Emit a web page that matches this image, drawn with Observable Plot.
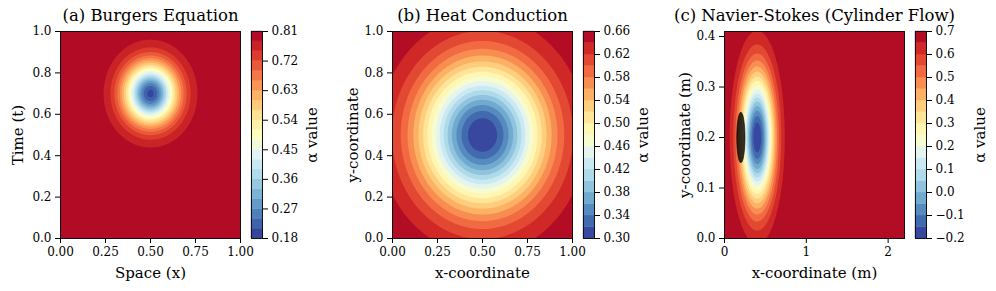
<!DOCTYPE html>
<html>
<head>
<meta charset="utf-8">
<script src="https://cdn.jsdelivr.net/npm/d3@7"></script>
<script src="https://cdn.jsdelivr.net/npm/@observablehq/plot@0.6"></script>
<style>
  html, body { margin: 0; padding: 0; background: #fff; }
  #fig { position: relative; width: 996px; height: 291px; overflow: hidden; background: #fff; font-family: "DejaVu Serif", serif; }
  #fig svg { position: absolute; top: 0; }
</style>
</head>
<body>
<div id="fig"></div>
<script>
// ---------------- data ----------------
const titles = ["(a) Burgers Equation", "(b) Heat Conduction", "(c) Navier-Stokes (Cylinder Flow)"];
const xLabels = ["Space (x)", "x-coordinate", "x-coordinate (m)"];
const yLabels = ["Time (t)", "y-coordinate", "y-coordinate (m)"];
const cbLabel = "α value";

const xDomains = [[0, 1], [0, 1], [0, 2.2]];
const yDomains = [[0, 1], [0, 1], [0, 0.41]];
const xTicks = [[0, 0.25, 0.5, 0.75, 1], [0, 0.25, 0.5, 0.75, 1], [0, 1, 2]];
const yTicks = [[0, 0.2, 0.4, 0.6, 0.8, 1], [0, 0.2, 0.4, 0.6, 0.8, 1], [0, 0.1, 0.2, 0.3, 0.4]];
const xTickFormats = [".2f", ".2f", "d"];
const yTickFormats = [".1f", ".1f", ".1f"];

// α field of each panel: a smooth dip below a background level
const fieldBase  = [0.80, 0.66, 0.70];
const fieldDepth = [0.60, 0.36, 0.90];
const fieldCx    = [0.50, 0.50, 0.40];
const fieldCy    = [0.70, 0.50, 0.20];
const fieldSx    = [0.10, 0.24, 0.14];
const fieldSy    = [0.10, 0.24, 0.088];

// contour levels (colour bar)
const levelLo    = [0.18, 0.30, -0.20];
const levelStep  = [0.03, 0.02, 0.05];
const levelCount = [21, 18, 18];
const cbTicks = [
  [0.18, 0.27, 0.36, 0.45, 0.54, 0.63, 0.72, 0.81],
  [0.30, 0.34, 0.38, 0.42, 0.46, 0.50, 0.54, 0.58, 0.62, 0.66],
  [-0.2, -0.1, 0.0, 0.1, 0.2, 0.3, 0.4, 0.5, 0.6, 0.7]
];
const cbTickFormats = [".2f", ".2f", ".1f"];

// cylinder obstacle (panel c)
const cylinderX = [0.2];
const cylinderY = [0.2];
const cylinderR = [0.05];

// ---------------- styling / layout ----------------
const cmapColors = ["#313695","#4575b4","#74add1","#abd9e9","#e0f3f8","#ffffbf","#fee090","#fdae61","#f46d43","#d73027","#a50026"];
const cmap = d3.piecewise(d3.interpolateRgb, cmapColors);
const frameLeft = [60, 392, 724];
const frameW = 180;
const frameTop = 31, frameBottom = 238, H = 291;
const mL = 70, mR = 8;
const cbGap = 11, cbW = 11, cbMR = 75;
const yLabelDx = [-42, -39, -39];
const cbLabelDx = [50, 49, 54];
const tickFont = 12, labelFont = 15, titleFont = 16.5;
const tickSize = 5, tickPad = 4;

const fig = document.getElementById("fig");

function levelsOf(i) {
  return d3.range(levelCount[i]).map(k => +(levelLo[i] + k * levelStep[i]).toFixed(6));
}
function colorOf(i) {
  const lo = levelLo[i], st = levelStep[i], hi = lo + levelCount[i] * st;
  return {type: "linear", domain: [lo - st / 2, hi - st / 2], interpolate: cmap};
}
const baseStyle = {fontFamily: "DejaVu Serif", fontSize: tickFont + "px", overflow: "visible", background: "transparent", color: "#000"};

for (let i = 0; i < 3; i++) {
  const field = (x, y) => fieldBase[i] - fieldDepth[i] * Math.exp(-(
    (x - fieldCx[i]) ** 2 / (2 * fieldSx[i] ** 2) + (y - fieldCy[i]) ** 2 / (2 * fieldSy[i] ** 2)));
  const bounds = {x1: xDomains[i][0], x2: xDomains[i][1], y1: yDomains[i][0], y2: yDomains[i][1]};
  const marks = [
    Plot.contour({fill: field, ...bounds, thresholds: levelsOf(i), pixelSize: 1})
  ];
  if (i === 2) {
    cylinderX.forEach((cx, k) => {
      marks.push(Plot.contour({
        value: (x, y) => cylinderR[k] - Math.hypot(x - cx, y - cylinderY[k]),
        ...bounds, thresholds: [0], pixelSize: 1,
        fill: "#000", fillOpacity: 0.8, stroke: "#000", strokeWidth: 0.6
      }));
    });
  }
  marks.push(
    Plot.frame({stroke: "#111", strokeWidth: 1}),
    Plot.axisX(xTicks[i], {tickFormat: d3.format(xTickFormats[i]), tickSize, tickPadding: tickPad, fontSize: tickFont, label: null}),
    Plot.axisY(yTicks[i], {tickFormat: d3.format(yTickFormats[i]), tickSize, tickPadding: tickPad, fontSize: tickFont, label: null}),
    Plot.text([titles[i]], {frameAnchor: "top", dy: -15.5, lineAnchor: "middle", textAnchor: "middle", fontSize: titleFont}),
    Plot.text([xLabels[i]], {frameAnchor: "bottom", dy: 35, lineAnchor: "middle", textAnchor: "middle", fontSize: labelFont}),
    Plot.text([yLabels[i]], {frameAnchor: "left", dx: yLabelDx[i], rotate: -90, lineAnchor: "middle", textAnchor: "middle", fontSize: labelFont})
  );
  const main = Plot.plot({
    width: frameW + mL + mR, height: H,
    marginLeft: mL, marginRight: mR, marginTop: frameTop, marginBottom: H - frameBottom,
    x: {domain: xDomains[i]}, y: {domain: yDomains[i]},
    color: colorOf(i),
    style: baseStyle,
    marks
  });
  main.style.left = (frameLeft[i] - mL) + "px";
  fig.appendChild(main);

  // colour bar
  const st = levelStep[i];
  const cb = Plot.plot({
    width: 1 + cbW + cbMR, height: H,
    marginLeft: 1, marginRight: cbMR, marginTop: frameTop, marginBottom: H - frameBottom,
    x: {domain: [0, 1], axis: null},
    y: {domain: [levelLo[i], levelLo[i] + levelCount[i] * st]},
    color: colorOf(i),
    style: baseStyle,
    marks: [
      Plot.rect(levelsOf(i), {x1: 0, x2: 1, y1: d => d, y2: d => d + st, fill: d => d, stroke: d => d, strokeWidth: 0.4}),
      Plot.frame({stroke: "#111", strokeWidth: 1}),
      Plot.axisY(cbTicks[i], {anchor: "right", tickFormat: d3.format(cbTickFormats[i]), tickSize, tickPadding: tickPad, fontSize: tickFont, label: null}),
      Plot.text([cbLabel], {frameAnchor: "right", dx: cbLabelDx[i], rotate: -90, lineAnchor: "middle", textAnchor: "middle", fontSize: labelFont})
    ]
  });
  cb.style.left = (frameLeft[i] + frameW + cbGap - 1) + "px";
  fig.appendChild(cb);
}
</script>
</body>
</html>
